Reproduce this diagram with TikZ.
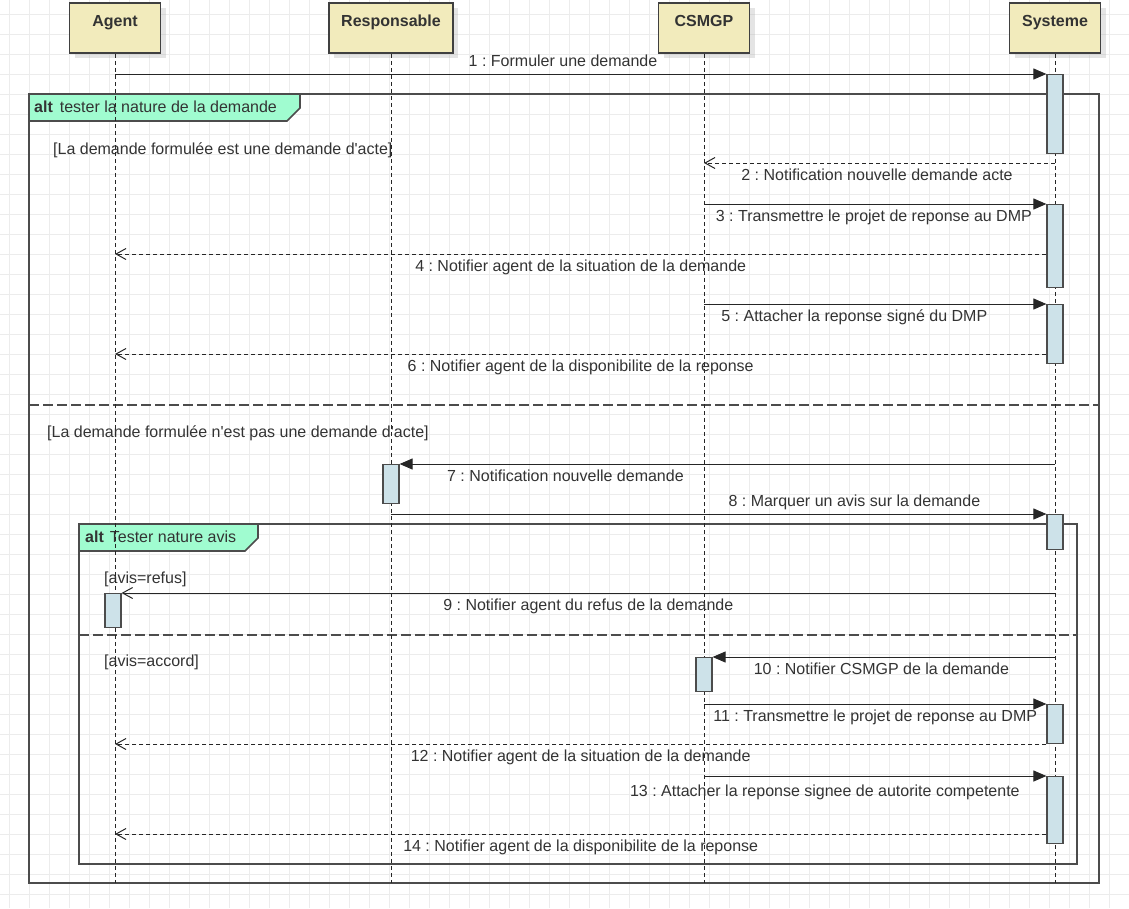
\documentclass[tikz,border=0pt]{standalone}
\usepackage{fontspec}
\setmainfont{Liberation Sans}
\usetikzlibrary{arrows.meta,shadows}
\definecolor{headc}{RGB}{242,235,188}
\definecolor{actc}{RGB}{205,226,233}
\definecolor{tabc}{RGB}{160,252,208}
\definecolor{txt}{RGB}{51,51,51}
\definecolor{gridc}{RGB}{236,236,236}
\frenchspacing
\begin{document}
\begin{tikzpicture}[x=1pt,y=-1pt,
    every node/.style={font=\fontsize{16}{19}\selectfont, text=txt},
    head/.style={draw=black!75, fill=headc, line width=1.5pt, inner sep=0pt,
      minimum width=91pt, text height=23pt, text depth=27pt,
      font=\fontsize{16}{19}\selectfont\bfseries,
      drop shadow={shadow xshift=5pt, shadow yshift=-5pt, fill=black!30, opacity=.35}},
    act/.style={draw=black!70, fill=actc, line width=1.2pt, inner sep=0pt,
      minimum width=16pt, anchor=north},
    lifeline/.style={black!85, line width=1pt, dash pattern=on 4pt off 3pt},
    sync/.style={black!85, line width=1pt, -{Triangle[length=13pt,width=11pt]}},
    reply/.style={black!85, line width=1pt, dash pattern=on 4pt off 3pt,
      -{Straight Barb[length=10pt,width=11pt]}},
    async/.style={black!85, line width=1pt, -{Straight Barb[length=10pt,width=11pt]}},
    frame/.style={draw=black!70, line width=1.6pt},
    divider/.style={black!70, line width=1.4pt, dash pattern=on 10pt off 4pt},
    lbl/.style={anchor=base, inner sep=0pt},
    guard/.style={anchor=base west, inner sep=0pt}]
  \useasboundingbox (0,0) rectangle (1129,908);
  % grid
  \foreach \gx in {9,29,...,1129} \draw[gridc] (\gx,0) -- (\gx,908);
  \foreach \gy in {14,34,...,908} \draw[gridc] (0,\gy) -- (1129,\gy);

  % alt frames
  \draw[frame] (29,94) rectangle (1099,883);
  \draw[frame, fill=tabc] (29,94) -- (300,94) -- (300,108) -- (287,121) -- (29,121) -- cycle;
  \node[guard] (alt1) at (34,112) {\textbf{alt}\hspace{7pt}tester la nature de la demande};
  \node[guard] (g1) at (53,154) {[La demande formulée est une demande d\textquotesingle acte]};
  \draw[divider] (29,405) -- (1099,405);
  \node[guard] (g2) at (47,437) {[La demande formulée n\textquotesingle est pas une demande d\textquotesingle acte]};

  \draw[frame] (79,524) rectangle (1077,864);
  \draw[frame, fill=tabc] (79,524) -- (258,524) -- (258,538) -- (245,551) -- (79,551) -- cycle;
  \node[guard] (alt2) at (85,542) {\textbf{alt}\hspace{6pt}Tester nature avis};
  \node[guard] (g3) at (104,583) {[avis=refus]};
  \draw[divider] (79,635) -- (1077,635);
  \node[guard] (g4) at (104,666) {[avis=accord]};

  % lifelines
  \node[head] (agent) at (115,28) {Agent};
  \node[head, minimum width=124pt] (responsable) at (391,28) {Responsable};
  \node[head] (csmgp) at (704,28) {CSMGP};
  \node[head] (systeme) at (1055,28) {Systeme};
  \coordinate (bottom) at (0,883);
  \foreach \who in {agent,responsable,csmgp,systeme}
    \draw[lifeline] (\who.south) -- (\who |- bottom);

  % activations
  \node[act, minimum height=79pt] (s1) at (1055,74) {};
  \node[act, minimum height=83pt] (s2) at (1055,204) {};
  \node[act, minimum height=59pt] (s3) at (1055,304) {};
  \node[act, minimum height=39pt] (r1) at (391,464) {};
  \node[act, minimum height=35pt] (s4) at (1055,514) {};
  \node[act, minimum height=34pt] (a1) at (113,593) {};
  \node[act, minimum height=34pt] (c1) at (704,657) {};
  \node[act, minimum height=39pt] (s5) at (1055,704) {};
  \node[act, minimum height=67pt] (s6) at (1055,776) {};

  % messages
  \foreach \n/\y in {2/163,4/254,6/354,8/514,12/744,14/834}
    \coordinate (t\n) at (0,\y);
  \draw[sync] (agent |- s1.north) -- (s1.north west)
    node[lbl, pos=.481, yshift=8pt] {1 : Formuler une demande};
  \draw[reply] (systeme |- t2) -- (csmgp |- t2)
    node[lbl, pos=.507, yshift=-17pt] {2 : Notification nouvelle demande acte};
  \draw[sync] (csmgp |- s2.north) -- (s2.north west)
    node[lbl, pos=.496, yshift=-17pt] {3 : Transmettre le projet de reponse au DMP};
  \draw[reply] (s2.west |- t4) -- (agent |- t4)
    node[lbl, midway, yshift=-17pt] {4 : Notifier agent de la situation de la demande};
  \draw[sync] (csmgp |- s3.north) -- (s3.north west)
    node[lbl, pos=.439, yshift=-17pt] {5 : Attacher la reponse signé du DMP};
  \draw[reply] (s3.west |- t6) -- (agent |- t6)
    node[lbl, midway, yshift=-17pt] {6 : Notifier agent de la disponibilite de la reponse};
  \draw[sync] (systeme |- r1.north) -- (r1.north east)
    node[lbl, pos=.747, yshift=-17pt] {7 : Notification nouvelle demande};
  \draw[sync] (responsable |- t8) -- (s4.north west)
    node[lbl, pos=.707, yshift=8pt] {8 : Marquer un avis sur la demande};
  \draw[async] (systeme |- a1.north) -- (a1.north east)
    node[lbl, midway, yshift=-17pt] {9 : Notifier agent du refus de la demande};
  \draw[sync] (systeme |- c1.north) -- (c1.north east)
    node[lbl, pos=.507, yshift=-17pt] {10 : Notifier CSMGP de la demande};
  \draw[sync] (csmgp |- s5.north) -- (s5.north west)
    node[lbl, midway, yshift=-17pt] {11 : Transmettre le projet de reponse au DMP};
  \draw[reply] (s5.west |- t12) -- (agent |- t12)
    node[lbl, midway, yshift=-17pt] {12 : Notifier agent de la situation de la demande};
  \draw[sync] (csmgp |- s6.north) -- (s6.north west)
    node[lbl, pos=.353, yshift=-20pt] {13 : Attacher la reponse signee de autorite competente};
  \draw[reply] (s6.west |- t14) -- (agent |- t14)
    node[lbl, midway, yshift=-17pt] {14 : Notifier agent de la disponibilite de la reponse};
\end{tikzpicture}
\end{document}
